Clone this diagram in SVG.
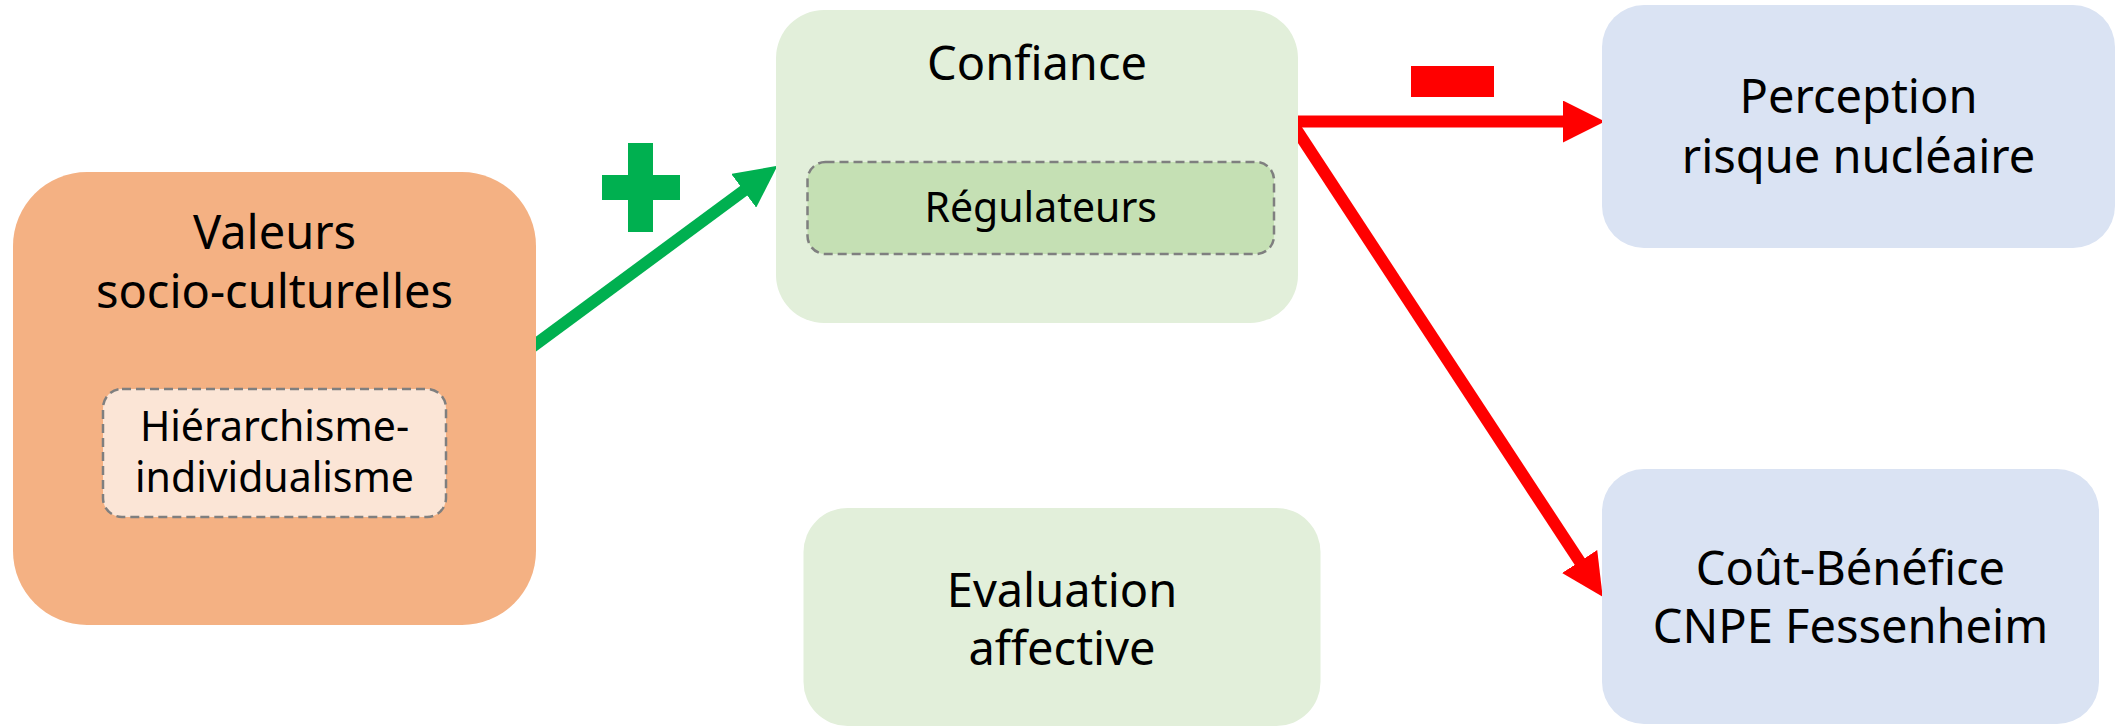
<svg xmlns="http://www.w3.org/2000/svg" width="2121" height="727" viewBox="0 0 2121 727">
<style>
text{font-family:"Noto Sans","Open Sans","DejaVu Sans",sans-serif;fill:#000;text-anchor:middle}
.big{font-size:47px}
.small{font-size:41px}
.dash{stroke:#7F7F7F;stroke-width:2.5;stroke-dasharray:9 5}
.red{stroke:#FF0000;stroke-width:12;fill:none}
.green{stroke:#00B050;stroke-width:12;fill:none}
</style>
<defs>
<marker id="ar" markerUnits="userSpaceOnUse" markerWidth="42" markerHeight="42" viewBox="0 0 40 40" refX="2" refY="20" orient="auto"><path d="M0,0 L40,20 L0,40 Z" fill="#FF0000"/></marker>
<marker id="ag" markerUnits="userSpaceOnUse" markerWidth="42" markerHeight="42" viewBox="0 0 40 40" refX="2" refY="20" orient="auto"><path d="M0,0 L40,20 L0,40 Z" fill="#00B050"/></marker>
</defs>
<g id="connectors">
<line class="green" x1="520" y1="355.9" x2="745.4" y2="189.5" marker-end="url(#ag)"/>
<line class="red" x1="1285" y1="121.5" x2="1565" y2="121.5" marker-end="url(#ar)"/>
<line class="red" x1="1288" y1="116.9" x2="1580.8" y2="563.3" marker-end="url(#ar)"/>
<path d="M628,143 H653 V175 H680 V200 H653 V232 H628 V200 H602 V175 H628 Z" fill="#00B050"/>
<rect x="1411" y="66" width="83" height="31" fill="#FF0000"/>
</g>
<g id="valeurs">
<rect x="13" y="172" width="523" height="453" rx="74" fill="#F4B183"/>
<text class="big" x="274.5" y="249">Valeurs</text>
<text class="big" x="274.5" y="308">socio-culturelles</text>
</g>
<g id="hierarchisme">
<rect x="103" y="389" width="343" height="128" rx="19" fill="#FBE5D6" class="dash"/>
<text class="small" x="274.5" y="441">Hiérarchisme-</text>
<text class="small" x="274.5" y="492">individualisme</text>
</g>
<g id="confiance">
<rect x="776" y="10" width="522" height="313" rx="48" fill="#E2EFDA"/>
<text class="big" x="1037" y="80">Confiance</text>
</g>
<g id="regulateurs">
<rect x="807.5" y="162" width="466.5" height="92" rx="18" fill="#C5E0B4" class="dash"/>
<text class="small" x="1040.7" y="222">Régulateurs</text>
</g>
<g id="perception">
<rect x="1602" y="5" width="513" height="243" rx="42" fill="#DAE3F3"/>
<text class="big" x="1858.5" y="113">Perception</text>
<text class="big" x="1858.5" y="173">risque nucléaire</text>
</g>
<g id="evaluation">
<rect x="803.5" y="508" width="517" height="218" rx="44" fill="#E2EFDA"/>
<text class="big" x="1062" y="607">Evaluation</text>
<text class="big" x="1062" y="665">affective</text>
</g>
<g id="coutbenefice">
<rect x="1602" y="469" width="497" height="255" rx="42" fill="#DAE3F3"/>
<text class="big" x="1850.5" y="585">Coût-Bénéfice</text>
<text class="big" x="1850.5" y="643">CNPE Fessenheim</text>
</g>
</svg>
